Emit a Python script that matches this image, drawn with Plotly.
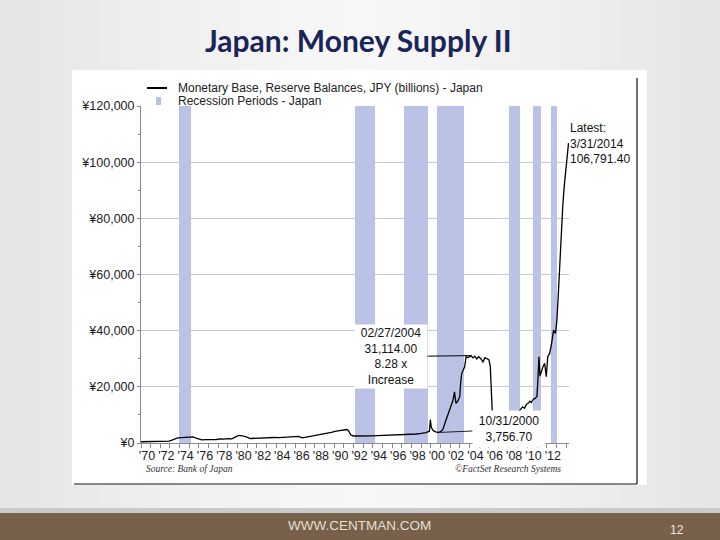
import plotly.graph_objects as go

# ---------------- data ----------------
dates = [1970.0, 1970.5, 1971.0, 1971.5, 1972.0, 1972.5, 1972.9, 1973.2, 1973.5, 1973.8,
         1974.2, 1974.6, 1975.0, 1975.4, 1975.7, 1976.0, 1976.3, 1976.7, 1977.0, 1977.4,
         1977.8, 1978.2, 1978.6, 1979.0, 1979.4, 1979.8, 1980.1, 1980.5, 1980.9, 1981.3,
         1981.8, 1982.3, 1982.8, 1983.3, 1983.8, 1984.3, 1984.8, 1985.3, 1985.8, 1986.3,
         1986.7, 1987.2, 1987.7, 1988.2, 1988.7, 1989.2, 1989.7, 1990.2, 1990.6, 1991.0,
         1991.3, 1991.5, 1991.7, 1992.0, 1992.5, 1993.0, 1993.5, 1994.0, 1994.5, 1995.0,
         1995.5, 1996.0, 1996.5, 1997.0, 1997.5, 1998.0, 1998.5, 1999.0, 1999.5, 1999.85,
         1999.95, 2000.05, 2000.25, 2000.5, 2000.83, 2001.1, 2001.25, 2001.5, 2001.8, 2001.95,
         2002.15, 2002.3, 2002.45, 2002.6, 2002.8, 2002.99, 2003.1, 2003.2, 2003.5, 2003.65,
         2003.85, 2004.0, 2004.16, 2004.35, 2004.55, 2004.75, 2004.95, 2005.15, 2005.4, 2005.6,
         2005.8, 2006.0, 2006.15, 2006.25, 2006.35, 2006.5, 2007.0, 2007.5, 2008.0, 2008.5,
         2008.9, 2009.1, 2009.3, 2009.5, 2009.7, 2009.9, 2010.1, 2010.25, 2010.4, 2010.6,
         2010.8, 2010.98, 2011.08, 2011.19, 2011.3, 2011.45, 2011.6, 2011.78, 2011.95, 2012.1,
         2012.3, 2012.5, 2012.7, 2012.9, 2013.05, 2013.2, 2013.33, 2013.47, 2013.65, 2013.8,
         2014.0, 2014.15, 2014.25]
values = [450, 480, 520, 560, 600, 650, 700, 1000, 1500, 1800,
          1900, 2000, 2050, 2200, 1700, 1300, 1100, 1200, 1150, 1350,
          1250, 1450, 1350, 1550, 1500, 2200, 2700, 2500, 2200, 1600,
          1700, 1650, 1850, 1800, 1950, 1900, 2050, 2000, 2150, 2350,
          1800, 2100, 2500, 2800, 3100, 3500, 3800, 4200, 4400, 4500,
          4800, 4300, 2900, 2500, 2450, 2500, 2450, 2550, 2600, 2650,
          2700, 2750, 2800, 2900, 3000, 3100, 3200, 3400, 3700, 4200,
          8300, 5500, 4400, 4000, 3756.7, 4300, 4800, 7500, 10500, 11700,
          13500, 15300, 18200, 14100, 15000, 16500, 22000, 24800, 27100, 30700,
          30400, 30900, 31114.0, 30300, 30900, 29900, 30700, 30100, 28900, 30400,
          30000, 29700, 27500, 20000, 11700, 10300, 10000, 10500, 9500, 9800,
          10500, 11200, 12200, 12900, 12400, 13800, 14200, 14900, 14400, 15600,
          15900, 16600, 22400, 30700, 23800, 26000, 27100, 28400, 23600, 30700,
          31900, 35500, 40200, 39000, 43800, 53300, 62700, 73400, 84100, 91200,
          98300, 103500, 106791.4]

rec_start = [1973.9, 1992.2, 1997.2, 2000.65, 2008.1, 2010.6, 2012.4]
rec_end = [1975.2, 1994.2, 1999.7, 2003.45, 2009.2, 2011.45, 2013.1]

label_years = list(range(1970, 2013, 2))
tick_years = list(range(1970, 2015))
y_max = 120000

peak_date, peak_label, peak_val = 2004.16, "02/27/2004", 31114.0
trough_date, trough_label, trough_val = 2000.83, "10/31/2000", 3756.7
latest_label = "3/31/2014"

# ---------------- layout helpers (pixel -> paper) ----------------
L, R, T, B = 141, 569, 106, 443
W, H = R - L, B - T
def px(x):
    return (x - L) / W
def py(y):
    return (B - y) / H

FONT = "Liberation Sans, Arial, sans-serif"

fig = go.Figure()

rec_mid = [(s + e) / 2 for s, e in zip(rec_start, rec_end)]
rec_w = [e - s for s, e in zip(rec_start, rec_end)]
fig.add_trace(go.Bar(x=rec_mid, y=[y_max] * len(rec_mid), width=rec_w, base=0,
                     marker=dict(color="#bac2e6", line=dict(width=0)),
                     name="Recession Periods - Japan", showlegend=False, hoverinfo="skip"))
fig.add_trace(go.Scatter(x=dates, y=values, mode="lines",
                         line=dict(color="#000000", width=1.3),
                         name="Monetary Base, Reserve Balances, JPY (billions) - Japan",
                         showlegend=False, hoverinfo="skip"))

shapes = []
# slide background gradient (horizontal)
n = 36
for i in range(n):
    x0 = i * 720 / n
    x1 = (i + 1) * 720 / n
    d = abs((x0 + x1) / 2 - 360) / 360
    g = int(round(247 - 19 * d ** 1.4))
    shapes.append(dict(type="rect", xref="paper", yref="paper", x0=px(x0), x1=px(x1 + 0.5),
                       y0=py(0), y1=py(509), fillcolor=f"rgb({g},{g},{g})",
                       line=dict(width=0), layer="below"))
# footer
shapes.append(dict(type="rect", xref="paper", yref="paper", x0=px(0), x1=px(720), y0=py(508),
                   y1=py(513), fillcolor="#c9c9c9", line=dict(width=0), layer="below"))
shapes.append(dict(type="rect", xref="paper", yref="paper", x0=px(0), x1=px(720), y0=py(513),
                   y1=py(540), fillcolor="#77614a", line=dict(width=0), layer="below"))
# chart image white box
shapes.append(dict(type="rect", xref="paper", yref="paper", x0=px(72), x1=px(647), y0=py(70),
                   y1=py(485), fillcolor="#ffffff", line=dict(width=0), layer="below"))
shapes.append(dict(type="line", xref="paper", yref="paper", x0=px(637), x1=px(637), y0=py(78),
                   y1=py(484), line=dict(color="#111111", width=1.2), layer="below"))
shapes.append(dict(type="line", xref="paper", yref="paper", x0=px(74), x1=px(637), y0=py(484),
                   y1=py(484), line=dict(color="#111111", width=1.2), layer="below"))
# manual legend swatches
shapes.append(dict(type="line", xref="paper", yref="paper", x0=px(147), x1=px(167), y0=py(88),
                   y1=py(88), line=dict(color="#000000", width=2), layer="above"))
shapes.append(dict(type="rect", xref="paper", yref="paper", x0=px(156), x1=px(161), y0=py(97),
                   y1=py(105), fillcolor="#bac2e6", line=dict(width=0), layer="above"))

annotations = [
    dict(text="<b>Japan: Money Supply II</b>", xref="paper", yref="paper", x=px(358), y=py(40),
         xanchor="center", yanchor="middle", showarrow=False,
         font=dict(family="Lato, Open Sans, sans-serif", size=30, color="#1a2558")),
    dict(text="Monetary Base, Reserve Balances, JPY (billions) - Japan", xref="paper", yref="paper",
         x=px(176), y=py(88), xanchor="left", yanchor="middle", showarrow=False,
         font=dict(family=FONT, size=12, color="#222222")),
    dict(text="Recession Periods - Japan", xref="paper", yref="paper",
         x=px(176), y=py(101), xanchor="left", yanchor="middle", showarrow=False,
         font=dict(family=FONT, size=12, color="#222222")),
    dict(text="<i>Source: Bank of Japan</i>", xref="paper", yref="paper", x=px(144), y=py(469),
         xanchor="left", yanchor="middle", showarrow=False,
         font=dict(family="Liberation Serif, Times New Roman, serif", size=9.5, color="#333333")),
    dict(text="<i>©FactSet Research Systems</i>", xref="paper", yref="paper", x=px(563), y=py(469),
         xanchor="right", yanchor="middle", showarrow=False,
         font=dict(family="Liberation Serif, Times New Roman, serif", size=9.5, color="#333333")),
    dict(text=f"Latest:<br>{latest_label}<br>{values[-1]:,.2f}", xref="x", yref="y",
         x=dates[-1], y=values[-1], xanchor="left", yanchor="middle", xshift=-1, align="left",
         showarrow=False, font=dict(family=FONT, size=12, color="#111111")),
    dict(text=f"{peak_label}<br>{peak_val:,.2f}<br>{peak_val / trough_val:.2f} x<br>Increase",
         xref="x", yref="y", x=peak_date, y=peak_val, ax=-80, ay=1, showarrow=True,
         arrowhead=0, arrowwidth=1, arrowcolor="#000000", bgcolor="#ffffff",
         width=72, height=63, borderpad=0, align="center",
         font=dict(family=FONT, size=12, color="#111111")),
    dict(text=f"{trough_label}<br>{trough_val:,.2f}",
         xref="x", yref="y", x=trough_date, y=trough_val, ax=70, ay=-3, showarrow=True,
         arrowhead=0, arrowwidth=1, arrowcolor="#222222", bgcolor="#ffffff",
         width=72, height=36, borderpad=0, align="center",
         font=dict(family=FONT, size=12, color="#111111")),
    dict(text="WWW.CENTMAN.COM", xref="paper", yref="paper", x=px(359), y=py(525),
         xanchor="center", yanchor="middle", showarrow=False,
         font=dict(family=FONT, size=13.5, color="#e6ddd3")),
    dict(text="12", xref="paper", yref="paper", x=px(677), y=py(530),
         xanchor="center", yanchor="middle", showarrow=False,
         font=dict(family=FONT, size=12, color="#eee6dc")),
]

fig.update_layout(
    width=720, height=540,
    margin=dict(l=L, r=720 - R, t=T, b=540 - B, pad=0),
    paper_bgcolor="#eeeeee", plot_bgcolor="#ffffff",
    showlegend=False, hovermode=False, bargap=0,
    shapes=shapes, annotations=annotations,
    font=dict(family=FONT, size=12, color="#222222"),
)
fig.update_xaxes(
    range=[1970, 2014.3], showgrid=False, zeroline=False,
    showline=True, linecolor="#8a8a8a", linewidth=1,
    tickmode="array", tickvals=tick_years,
    ticktext=[f"'{str(y)[2:]}" if y in label_years else "" for y in tick_years],
    ticks="outside", ticklen=4, tickcolor="#8a8a8a", ticklabelshift=6, ticklabelstandoff=-3,
    tickfont=dict(family=FONT, size=12.5, color="#222222"),
)
fig.update_yaxes(
    range=[0, y_max], dtick=20000, tick0=0, tickformat=",d", tickprefix="¥",
    showgrid=True, gridcolor="#c8c8c8", gridwidth=1, zeroline=False,
    showline=True, linecolor="#8a8a8a", linewidth=1,
    ticks="outside", ticklen=3, tickcolor="#8a8a8a", ticklabelstandoff=0,
    minor=dict(dtick=10000, ticks="outside", ticklen=2, tickcolor="#8a8a8a", showgrid=False),
    tickfont=dict(family=FONT, size=12.5, color="#222222"),
)

fig.write_html("out.html", config={"displayModeBar": False},
               post_script="document.body.style.margin='0';")
